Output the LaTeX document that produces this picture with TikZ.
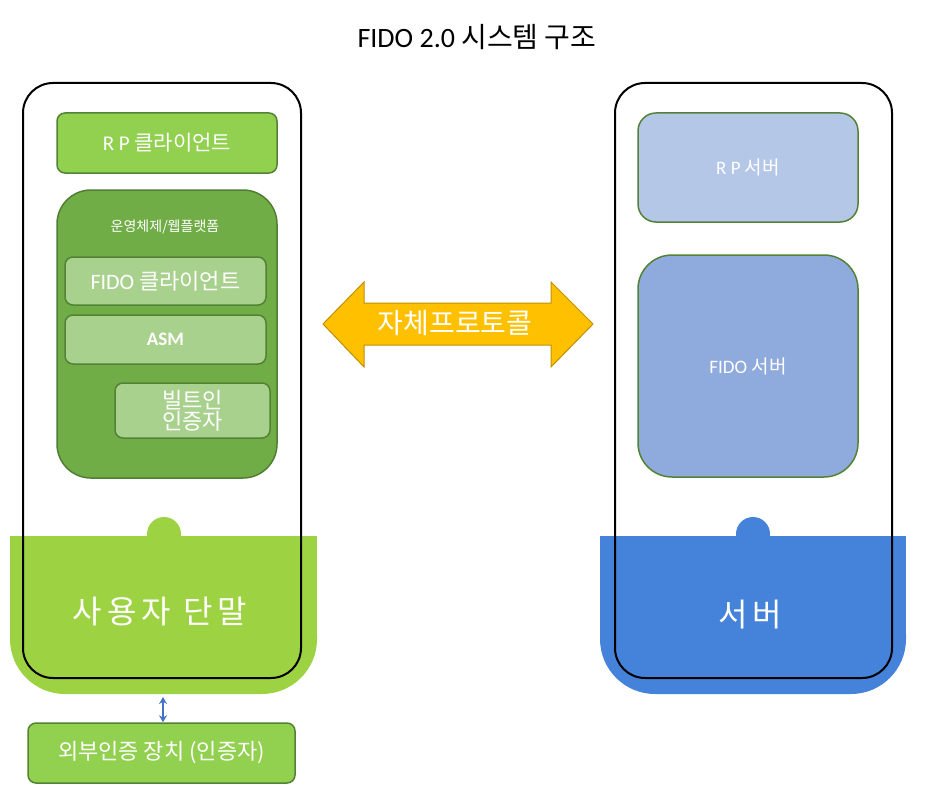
\documentclass[tikz,border=0pt]{standalone}
\usepackage{fontspec}
\setmainfont{Noto Sans CJK KR}
\newfontfamily\lat{Carlito}
\newfontfamily\krwide[LetterSpace=16]{Noto Sans CJK KR}
\usetikzlibrary{arrows.meta}
\definecolor{devgreen}{RGB}{157,211,66}
\definecolor{srvblue}{RGB}{68,131,217}
\definecolor{bordergreen}{RGB}{84,130,53}
\definecolor{rpgreen}{RGB}{146,208,80}
\definecolor{osgreen}{RGB}{112,173,71}
\definecolor{osborder}{RGB}{80,126,50}
\definecolor{lightgreen}{RGB}{169,209,142}
\definecolor{rpblue}{RGB}{180,199,231}
\definecolor{fidoblue}{RGB}{143,170,220}
\definecolor{gold}{RGB}{255,192,0}
\definecolor{goldborder}{RGB}{191,144,0}
\definecolor{arrowblue}{RGB}{68,114,196}
\newcommand\fs[1]{\fontsize{#1}{#1}\selectfont}
\begin{document}
\begin{tikzpicture}[x=1pt,y=-1pt,
  frame/.style={draw=black,line width=2pt,rounded corners=30pt,inner sep=0pt},
  gbox/.style={draw=bordergreen,line width=1.5pt,rounded corners=8pt,text=white,inner sep=0pt,align=center},
  lbl/.style={text=white,inner sep=0pt,align=center},
]
\useasboundingbox (0,0) rectangle (928,797);
% title
\node[inner sep=0pt] (title) at (477,37) {\fs{28}\lat FIDO 2.0 \rmfamily 시스템 구조};

% device base
\fill[devgreen] (10,536) rectangle (317,640);
\fill[devgreen,rounded corners=55pt] (10,580) rectangle (317,694);
\fill[devgreen] (164,534) circle[radius=17];
% server base
\fill[srvblue] (600,536) rectangle (906,640);
\fill[srvblue,rounded corners=55pt] (600,580) rectangle (906,694);
\fill[srvblue] (753,534) circle[radius=17];

% frames
\node[frame,minimum width=278pt,minimum height=595pt] (devframe) at (162,380.5) {};
\node[frame,minimum width=277pt,minimum height=595pt] (srvframe) at (753.5,380.5) {};

\node[lbl] (devlabel) at (160,612) {\fs{32}\krwide 사용자 단말};
\node[lbl] (srvlabel) at (750,615) {\fs{32}\krwide 서버};

% device contents
\node[gbox,fill=rpgreen,minimum width=220pt,minimum height=60pt] (rpclient) at (167,143) {\fs{21}\lat R P \rmfamily 클라이언트};
\node[draw=osborder,line width=1.5pt,fill=osgreen,rounded corners=34pt,minimum width=220pt,minimum height=288pt] (os) at (167,334) {};
\node[lbl] (oslabel) at (165,227) {\fs{14}운영체제/웹플랫폼};
\node[gbox,fill=lightgreen,minimum width=201pt,minimum height=48pt] (fidoclient) at (165.5,281) {\fs{22}\lat FIDO \rmfamily 클라이언트};
\node[gbox,fill=lightgreen,minimum width=201pt,minimum height=49pt] (asm) at (165.5,339.5) {\fs{19}\lat\bfseries ASM};
\node[gbox,fill=lightgreen,minimum width=155pt,minimum height=55pt] (builtin) at (192.5,410.5) {\fs{22}빌트인\\\fs{22}인증자};

% external authenticator
\node[gbox,fill=rpgreen,minimum width=267pt,minimum height=60pt] (ext) at (161.5,753) {\fs{22}외부인증 장치 (인증자)};
\coordinate (devbottom) at (163,697);
\draw[arrowblue,line width=1.2pt,{Stealth[length=7pt,width=8pt]}-{Stealth[length=7pt,width=8pt]}] (devbottom) -- (devbottom |- ext.north);

% server contents
\node[gbox,fill=rpblue,rounded corners=18pt,minimum width=220pt,minimum height=109pt] (rpserver) at (748,167.5) {\fs{19}\lat R P \rmfamily 서버};
\node[gbox,fill=fidoblue,rounded corners=34pt,minimum width=220pt,minimum height=222pt] (fidoserver) at (748,366) {\fs{19}\lat FIDO \rmfamily 서버};

% protocol arrow
\draw[fill=gold,draw=goldborder,line width=1pt]
  (323,324) -- (364,282) -- (364,303) -- (551,303) -- (551,282) -- (593,324)
  -- (551,367) -- (551,345) -- (364,345) -- (364,367) -- cycle;
\node[lbl] (protocol) at (455,323) {\fs{28}자체프로토콜};
\end{tikzpicture}
\end{document}
